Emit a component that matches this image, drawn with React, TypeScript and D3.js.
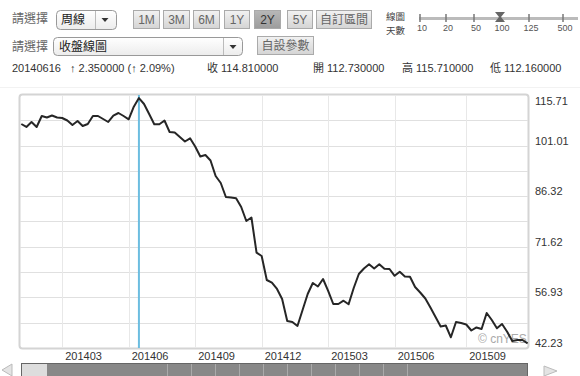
import React from "react";
import * as d3 from "d3";

// ---- data ----
const startDate = new Date(2014, 0, 6);
const endDate = new Date(2015, 11, 1);
const closeValues: number[] = [
  107.29, 106.42, 107.87, 106.42, 109.61, 109.18, 109.76, 109.18, 109.03, 108.3,
  107.0, 108.16, 106.71, 107.29, 109.61, 109.61, 108.74, 107.87, 109.7, 110.48,
  109.61, 108.65, 112.31, 114.81, 113.1, 110.19, 107.23, 107.23, 108.3, 104.96,
  104.82, 103.51, 102.21, 103.13, 100.75, 97.85, 98.28, 96.69, 92.19, 90.15,
  86.09, 85.94, 85.71, 83.18, 79.12, 80.13, 69.91, 68.95, 61.98, 61.2,
  59.37, 56.46, 50.07, 49.78, 48.62, 53.27, 57.91, 61.11, 60.09, 62.27,
  58.79, 55.01, 55.01, 55.97, 54.92, 59.66, 63.72, 65.32, 66.54, 65.32,
  66.57, 65.26, 65.18, 63.2, 64.36, 63.0, 62.94, 59.95, 58.35, 56.61,
  53.99, 51.23, 48.48, 48.77, 45.34, 49.78, 49.49, 49.06, 47.31, 48.19,
  47.75, 52.4, 50.36, 47.95, 49.2, 46.96, 44.26, 44.55, 44.55, 43.6,
];
const xTickMonths = ["201403", "201406", "201409", "201412", "201503", "201506", "201509"];
const yMin = 42.23;
const yMax = 115.71;
const yTickLabels = ["115.71", "101.01", "86.32", "71.62", "56.93", "42.23"];
const rangeButtons = ["1M", "3M", "6M", "1Y", "2Y", "5Y", "自訂區間"];
const activeRange = "2Y";
const sliderLabels = ["10", "20", "50", "100", "125", "500"];
const selectedDays = "100";
const infoDate = "20140616";
const infoChange = "↑ 2.350000 (↑ 2.09%)";
const infoFields = [
  ["收", "114.810000"],
  ["開", "112.730000"],
  ["高", "115.710000"],
  ["低", "112.160000"],
];
const highlightDate = new Date(2014, 5, 16);

const dates = d3.timeMonday.range(startDate, endDate);
const series = dates.map((d, i) => ({ date: d, value: closeValues[i] }));

const FONT = "Arial, 'Liberation Sans', 'Noto Sans CJK TC', sans-serif";
const CJK = "'Noto Sans CJK TC', 'Noto Sans CJK SC', sans-serif";

export default function App() {
  const W = 580, H = 376;
  const left = 20, right = 528, top = 95, bottom = 348;
  const x = d3.scaleTime().domain([dates[0], dates[dates.length - 1]]).range([21.3, 527.6]);
  const y = d3.scaleLinear().domain([yMin, yMax]).range([bottom, top]);
  const fmt = d3.timeFormat("%Y%m");
  const tickDates = xTickMonths.map((m) => dates.find((d) => fmt(d) === m)!);
  const gridVals = d3.range(0, 11).map((k) => yMin + (k * (yMax - yMin)) / 10);
  const line = d3.line<{ date: Date; value: number }>().x((d) => x(d.date)).y((d) => y(d.value));

  const btnX = [133, 163, 193, 224, 254, 287, 316];
  const btnW = [26, 26, 26, 25, 26, 25, 55];
  const slX = [420, 446, 474, 500, 529, 563];

  return (
    <svg width={W} height={H} style={{ position: "absolute", left: 0, top: 0, background: "#fff" }} fontFamily={FONT}>
      <defs>
        <linearGradient id="btn" x1="0" y1="0" x2="0" y2="1">
          <stop offset="0" stopColor="#f2f2f2" />
          <stop offset="1" stopColor="#d4d4d4" />
        </linearGradient>
        <linearGradient id="btnA" x1="0" y1="0" x2="0" y2="1">
          <stop offset="0" stopColor="#b8b8b8" />
          <stop offset="1" stopColor="#9c9c9c" />
        </linearGradient>
        <linearGradient id="sel" x1="0" y1="0" x2="0" y2="1">
          <stop offset="0" stopColor="#ffffff" />
          <stop offset="1" stopColor="#ececec" />
        </linearGradient>
      </defs>
      <rect width={W} height={H} fill="#fff" />

      {/* row 1 */}
      <text x={12} y={23} fontSize={12} fill="#666" fontFamily={CJK}>請選擇</text>
      <rect x={56.5} y={10.5} width={60} height={19} rx={4} fill="url(#sel)" stroke="#999" />
      <line x1={95.5} x2={95.5} y1={11} y2={29} stroke="#bbb" />
      <text x={61} y={24} fontSize={12} fill="#222" fontFamily={CJK}>周線</text>
      <path d="M101.5,18 L108.5,18 L105,22 Z" fill="#333" />
      {rangeButtons.map((b, i) => (
        <g key={b}>
          <rect x={btnX[i] + 0.5} y={10.5} width={btnW[i]} height={18} fill={b === activeRange ? "url(#btnA)" : "url(#btn)"} stroke="#aaa" />
          <text x={btnX[i] + btnW[i] / 2 + 0.5} y={24} fontSize={12} textAnchor="middle" fill={b === activeRange ? "#333" : "#666"} fontFamily={i === 6 ? CJK : FONT}>{b}</text>
        </g>
      ))}
      <text x={386} y={19.5} fontSize={9.5} fill="#444" fontFamily={CJK}>線圖</text>
      <text x={386} y={33.5} fontSize={9.5} fill="#444" fontFamily={CJK}>天數</text>
      <line x1={419} x2={578} y1={18.5} y2={18.5} stroke="#bbb" strokeWidth={3} />
      {sliderLabels.map((s, i) => (
        <g key={s}>
          <line x1={slX[i]} x2={slX[i]} y1={14} y2={22} stroke="#777" strokeWidth={1.5} />
          <text x={slX[i] + 2} y={31} fontSize={9} textAnchor="middle" fill="#555">{s}</text>
          {s === selectedDays && (
            <path d={`M${slX[i] - 5},12 L${slX[i] + 5},12 L${slX[i] + 1},17 L${slX[i] + 5},22 L${slX[i] - 5},22 L${slX[i] - 1},17 Z`} fill="#666" />
          )}
        </g>
      ))}

      {/* row 2 */}
      <text x={12} y={51} fontSize={12} fill="#666" fontFamily={CJK}>請選擇</text>
      <rect x={53.5} y={37.5} width={189} height={18} rx={4} fill="url(#sel)" stroke="#999" />
      <line x1={223.5} x2={223.5} y1={38} y2={55} stroke="#bbb" />
      <text x={59} y={51} fontSize={12} fill="#222" fontFamily={CJK}>收盤線圖</text>
      <path d="M229.5,45 L236.5,45 L233,49 Z" fill="#333" />
      <rect x={257.5} y={36.5} width={56} height={18} fill="url(#btn)" stroke="#aaa" />
      <text x={285.5} y={50} fontSize={12} textAnchor="middle" fill="#666" fontFamily={CJK}>自設參數</text>

      {/* row 3 */}
      <text x={12} y={72} fontSize={11} fill="#333">{infoDate}</text>
      <text x={70} y={72} fontSize={11} fill="#333">{infoChange}</text>
      {infoFields.map((f, i) => (
        <text key={f[0]} x={[207, 313, 402, 490][i]} y={72} fontSize={11} fill="#333">
          <tspan fontFamily={CJK}>{f[0]}</tspan> {f[1]}
        </text>
      ))}

      {/* chart frame */}
      <line x1={0} x2={W} y1={87.5} y2={87.5} stroke="#f2f2f2" />
      <rect x={left - 0.5} y={top - 0.5} width={right - left + 1} height={bottom - top + 1} rx={3} fill="#fff" stroke="#d4d4d4" strokeWidth={2} />
      {gridVals.slice(1, 10).map((v, i) => (
        <line key={i} x1={left} x2={right} y1={Math.round(y(v)) + 0.5} y2={Math.round(y(v)) + 0.5} stroke="#e0e0e0" />
      ))}
      {tickDates.map((d, i) => (
        <line key={i} x1={Math.round(x(d)) + 0.5} x2={Math.round(x(d)) + 0.5} y1={top} y2={bottom} stroke="#e8e8e8" />
      ))}
      <text x={478} y={343} fontSize={12} fill="#aaa">© cnYES</text>
      <line x1={x(highlightDate)} x2={x(highlightDate)} y1={top} y2={bottom} stroke="#6cbde0" strokeWidth={2} />
      <path d={line(series) || ""} fill="none" stroke="#262626" strokeWidth={2} strokeLinejoin="round" />

      {/* y labels */}
      {yTickLabels.map((s, i) => {
        const v = parseFloat(s);
        const yy = y(v);
        const ty = i === 0 ? yy + 10 : yy - 1;
        return <text key={s} x={535} y={ty} fontSize={11} fill="#333">{s}</text>;
      })}
      {/* x labels */}
      {tickDates.map((d, i) => (
        <text key={i} x={x(d) + 3} y={360} fontSize={11} fill="#333">{xTickMonths[i]}</text>
      ))}

      {/* scrollbar */}
      <path d="M12,364 L12,376 L2,370 Z" fill="#e4e4e4" stroke="#bbb" />
      <path d="M544,366 L544,376 L557,371 Z" fill="#e4e4e4" stroke="#bbb" />
      <rect x={21.5} y={363.5} width={506} height={14} fill="#888" stroke="#666" />
      <rect x={22} y={364} width={25} height={13} fill="#ddd" />
      {d3.range(0, 11).map((k) => (
        <line key={k} x1={167.5 + k * 24} x2={167.5 + k * 24} y1={364} y2={376} stroke="#aaa" />
      ))}
    </svg>
  );
}
